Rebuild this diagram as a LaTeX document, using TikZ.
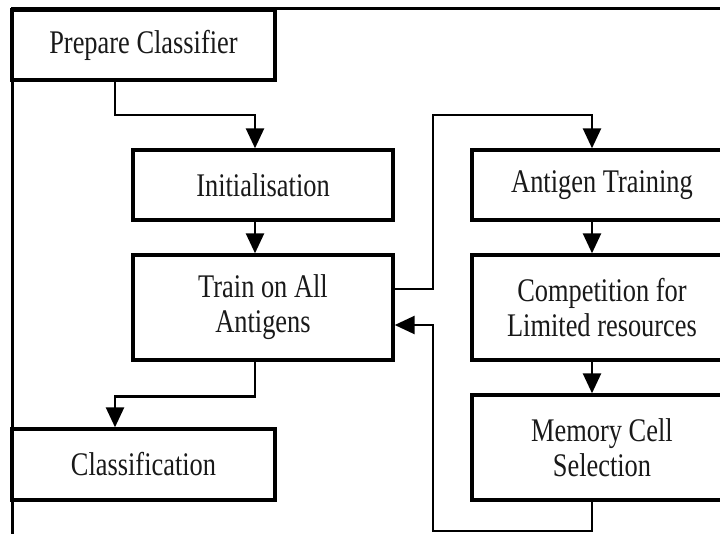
\documentclass[tikz,border=0pt]{standalone}
\usepackage{fontspec}
\setmainfont[FakeStretch=0.8]{Liberation Serif}
\usetikzlibrary{arrows.meta}
\begin{document}
\begin{tikzpicture}[x=1pt,y=-1pt,
  box/.style={draw, line width=3.4pt, inner sep=0pt, align=center,
    font=\fontsize{33}{35}\selectfont, text=black!90},
  conn/.style={line width=2.6pt, -{Triangle[width=18pt,length=20pt]}}]
\useasboundingbox (0,0) rectangle (720,533);
\clip (0,0) rectangle (720,533);
\fill[white] (0,0) rectangle (720,533);
% frame
\draw[line width=3pt] (720,8) -- (12,8) -- (12,540);
% boxes
\node[box, minimum width=263pt, minimum height=70pt] (prep) at (143.5,45) {Prepare Classifier};
\node[box, minimum width=260pt, minimum height=70pt] (init) at (263,185) {Initialisation};
\node[box, minimum width=260pt, minimum height=105pt] (train) at (263,307.5) {Train on All\\Antigens};
\node[box, minimum width=263pt, minimum height=71pt] (class) at (143.5,464.5) {Classification};
\node[box, minimum width=260pt, minimum height=70pt] (at) at (602,185) {Antigen Training};
\node[box, minimum width=260pt, minimum height=105pt] (comp) at (602,307.5) {Competition for\\Limited resources};
\node[box, minimum width=260pt, minimum height=105pt] (mem) at (602,447.5) {Memory Cell\\Selection};
% helper coordinates
\coordinate (xa) at (255,0);
\coordinate (xb) at (115,0);
\coordinate (xc) at (433,0);
\coordinate (xd) at (592,0);
\coordinate (yt) at (0,115);
\coordinate (y1) at (0,289);
\coordinate (y2) at (0,325);
\coordinate (yb) at (0,531);
% connectors
\draw[conn] (prep.south -| xb) -- (xb |- yt) -| (init.north -| xa);
\draw[conn] (init.south -| xa) -- (train.north -| xa);
\draw[conn] (train.south -| xa) -- ++(0,35) -| (class.north -| xb);
\draw[conn] (train.east |- y1) -| (xc |- yt) -| (at.north -| xd);
\draw[conn] (at.south -| xd) -- (comp.north -| xd);
\draw[conn] (comp.south -| xd) -- (mem.north -| xd);
\draw[conn] (mem.south -| xd) -- (xd |- yb) -| (xc |- y2) -- (train.east |- y2);
\end{tikzpicture}
\end{document}
